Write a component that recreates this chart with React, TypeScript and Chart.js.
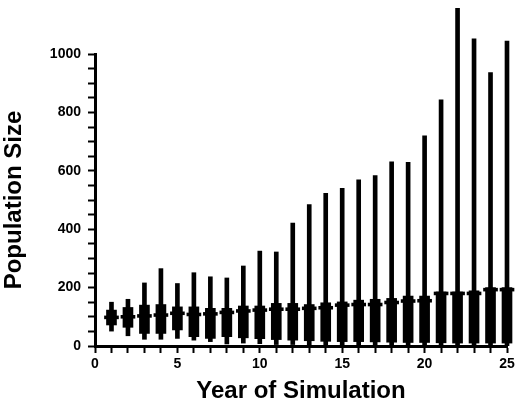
import React, { useEffect, useRef } from "react";
import { Chart, registerables } from "chart.js";

Chart.register(...registerables);

const years = [1, 2, 3, 4, 5, 6, 7, 8, 9, 10, 11, 12, 13, 14, 15, 16, 17, 18, 19, 20, 21, 22, 23, 24, 25];
const maxVals = [150, 160, 216, 265, 214, 251, 237, 233, 274, 325, 322, 421, 484, 523, 540, 569, 584, 631, 629, 720, 843, 1156, 1052, 936, 1044];
const q3Vals = [123, 132, 140, 142, 134, 134, 129, 129, 137, 137, 146, 146, 142, 148, 151, 157, 160, 163, 171, 171, 185, 185, 189, 200, 200];
const medianVals = [98, 100, 103, 106, 112, 108, 110, 115, 120, 123, 126, 126, 129, 131, 140, 142, 142, 149, 154, 155, 180, 180, 180, 193, 193];
const q1Vals = [72, 64, 43, 43, 55, 32, 26, 32, 28, 25, 22, 20, 18, 16, 15, 15, 14, 13, 12, 12, 11, 10, 10, 10, 10];
const minVals = [51, 35, 23, 23, 26, 20, 15, 7, 10, 8, 5, 5, 4, 3, 3, 2, 2, 2, 1, 1, 1, 1, 1, 1, 1];

const xTickLabels = [0, 5, 10, 15, 20, 25];
const yTickLabels = [0, 200, 400, 600, 800, 1000];

const FONT = "'Liberation Sans', Arial, Helvetica, sans-serif";

export default function App() {
  const ref = useRef<HTMLCanvasElement | null>(null);

  useEffect(() => {
    if (!ref.current) return;
    const whiskers = years.map((x, i) => ({ x, y: [minVals[i], maxVals[i]] }));
    const boxes = years.map((x, i) => ({ x, y: [q1Vals[i], q3Vals[i]] }));
    const medians = years.map((x, i) => ({ x, y: [medianVals[i] - 5, medianVals[i] + 5] }));

    const common = {
      backgroundColor: "#000",
      borderWidth: 0,
      grouped: false,
      clip: false as any,
    };

    const chart = new Chart(ref.current, {
      type: "bar",
      data: {
        datasets: [
          { ...common, label: "range", data: whiskers as any, barThickness: 4, order: 3 },
          { ...common, label: "box", data: boxes as any, barThickness: 10, order: 2 },
          { ...common, label: "median", data: medians as any, barThickness: 14, order: 1 },
        ],
      },
      options: {
        animation: false,
        responsive: false,
        maintainAspectRatio: false,
        layout: { padding: { top: 54, right: 12, left: 0, bottom: 0 } },
        plugins: { legend: { display: false }, tooltip: { enabled: false } },
        scales: {
          x: {
            type: "linear",
            min: 0,
            max: 25,
            offset: false,
            grid: { display: true, drawOnChartArea: false, drawTicks: true, tickLength: 7, tickWidth: 2, color: "#000", offset: false },
            border: { display: true, width: 3, color: "#000" },
            ticks: {
              stepSize: 1,
              autoSkip: false,
              maxRotation: 0,
              padding: 3,
              color: "#000",
              font: { family: FONT, size: 14, weight: "bold" },
              callback: (v: any) => (xTickLabels.includes(Number(v)) ? String(v) : ""),
            },
            title: {
              display: true,
              text: "Year of Simulation",
              color: "#000",
              font: { family: FONT, size: 24, weight: "bold" },
              padding: { top: 0, bottom: 1 },
            },
            afterFit: (s: any) => {
              s.height = 61;
            },
          },
          y: {
            type: "linear",
            min: 0,
            max: 1000,
            grid: { display: true, drawOnChartArea: false, drawTicks: true, tickLength: 7, tickWidth: 2, color: "#000" },
            border: { display: true, width: 3, color: "#000" },
            ticks: {
              stepSize: 50,
              autoSkip: false,
              padding: 7,
              color: "#000",
              font: { family: FONT, size: 14, weight: "bold" },
              callback: (v: any) => (yTickLabels.includes(Number(v)) ? String(v) : ""),
            },
            title: {
              display: true,
              text: "Population Size",
              color: "#000",
              font: { family: FONT, size: 24, weight: "bold" },
              padding: { top: 0, bottom: 8 },
            },
            afterFit: (s: any) => {
              s.width = 95;
            },
          },
        },
      },
    });
    return () => chart.destroy();
  }, []);

  return (
    <div style={{ position: "fixed", left: 0, top: 0, width: 519, height: 407, background: "#fff" }}>
      <canvas ref={ref} width={519} height={407} style={{ width: 519, height: 407, display: "block" }} />
    </div>
  );
}
